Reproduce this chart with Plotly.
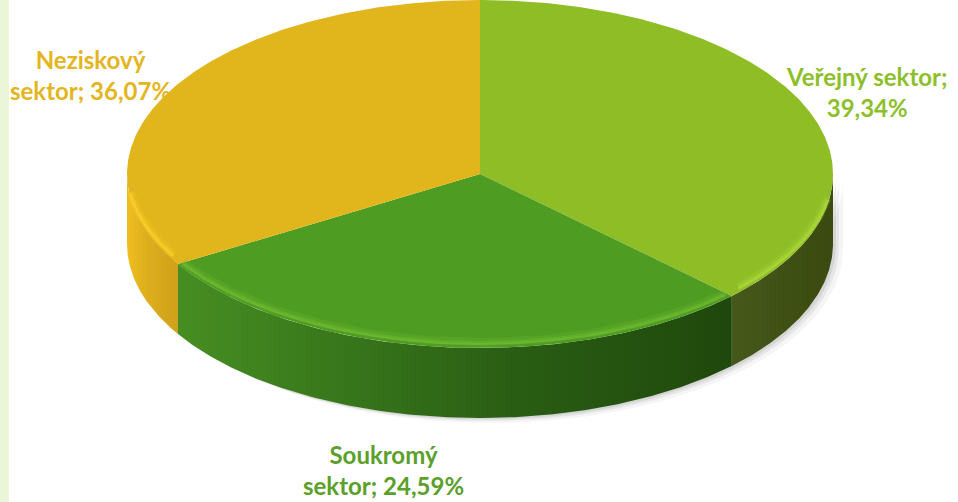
import numpy as np
import plotly.graph_objects as go

# ---- data ----
categories = ["Veřejný sektor", "Soukromý sektor", "Neziskový sektor"]
values = [39.34, 24.59, 36.07]
label_texts = ["Veřejný sektor;<br>39,34%", "Soukromý<br>sektor; 24,59%", "Neziskový<br>sektor; 36,07%"]

# ---- styles ----
top_colors = ["#8FBD26", "#4F9C23", "#E1B51C"]
rim_rgb = ["175,220,60", "115,190,50", "255,210,40"]
side_scales = [
    [[0, "#46581A"], [1, "#3A4A10"]],
    [[0, "#468E22"], [0.25, "#3A7A1C"], [0.6, "#2A5E14"], [1, "#1F480C"]],
    [[0, "#F0BE20"], [0.4, "#DDAE1C"], [1, "#CFA01A"]],
]
text_colors = ["#8DBF2A", "#5AA02A", "#E3B520"]
label_pos = [(866, 92), (383, 470), (90, 75)]

W, H = 958, 502
cx, cy, a, b, depth = 480, 174, 353, 174, 70
persp = 0.83  # perspective remap of slice angles (near side enlarged)


def proj(theta_deg):
    t = np.radians(np.asarray(theta_deg, dtype=float))
    return np.degrees(2 * np.arctan2(persp * np.sin(t / 2), np.cos(t / 2)))


def pt(phi_deg, dy=0.0):
    t = np.radians(phi_deg)
    return cx + a * np.sin(t), cy - b * np.cos(t) + dy


fig = go.Figure()

# soft shadow under the pie
th = np.linspace(90, 270, 200)
sx, sy = pt(th, depth)
tx, ty = pt(th[::-1], 0)
for off, op in [(10, 0.04), (6, 0.06), (3, 0.07)]:
    fig.add_trace(go.Scatter(
        x=list(sx + off) + list(tx + off) + [sx[0] + off],
        y=list(sy + off * 0.5) + list(ty + off * 0.5) + [sy[0] + off * 0.5],
        mode="lines", line=dict(width=0), fill="toself",
        fillcolor=f"rgba(0,0,0,{op})", hoverinfo="skip", showlegend=False))

# slice angles (from data), mapped to the tilted view
total = sum(values)
bounds = proj(np.concatenate([[0], np.cumsum(values) / total * 360]))
bounds = np.where(bounds < 0, bounds + 360, bounds)
bounds[-1] = 360

# side walls
for i, v in enumerate(values):
    t1, t2 = bounds[i], bounds[i + 1]
    s, e = max(t1, 90), min(t2, 270)
    if e <= s:
        continue
    th = np.linspace(s, e, 200)
    x1, y1 = pt(th, 0)
    x2, y2 = pt(th[::-1], depth)
    fig.add_trace(go.Scatter(
        x=list(x1) + list(x2) + [x1[0]], y=list(y1) + list(y2) + [y1[0]],
        mode="lines", line=dict(width=0), fill="toself",
        fillgradient=dict(type="horizontal", colorscale=side_scales[i]),
        hoverinfo="skip", showlegend=False))

# top faces
for i, v in enumerate(values):
    t1, t2 = bounds[i], bounds[i + 1]
    th = np.linspace(t1, t2, 300)
    x1, y1 = pt(th, 0)
    fig.add_trace(go.Scatter(
        x=[cx] + list(x1) + [cx], y=[cy] + list(y1) + [cy],
        mode="lines", line=dict(width=0), fill="toself",
        fillcolor=top_colors[i], name=categories[i],
        hovertemplate=f"{categories[i]}: {v:.2f}%<extra></extra>",
        showlegend=False))

# soft bevel highlight along the front rim
for i, v in enumerate(values):
    t1, t2 = bounds[i], bounds[i + 1]
    s, e = max(t1 + 1.5, 100), min(t2 - 1.5, 262)
    if e <= s:
        continue
    th = np.linspace(s, e, 200)
    for w, op, dy in [(8, 0.22, -6), (4, 0.4, -5), (2, 0.55, -4)]:
        x1, y1 = pt(th, dy)
        fig.add_trace(go.Scatter(
            x=x1, y=y1, mode="lines",
            line=dict(width=w, color=f"rgba({rim_rgb[i]},{op})"),
            hoverinfo="skip", showlegend=False))

# labels
for i, txt in enumerate(label_texts):
    fig.add_annotation(x=label_pos[i][0], y=label_pos[i][1], xref="x", yref="y",
                       text=txt, showarrow=False,
                       font=dict(family="Lato", size=24, color=text_colors[i], weight="bold"),
                       align="center")

fig.update_layout(
    width=W, height=H, margin=dict(l=0, r=0, t=0, b=0),
    paper_bgcolor="white", plot_bgcolor="white",
    xaxis=dict(range=[0, W], visible=False, fixedrange=True),
    yaxis=dict(range=[H, 0], visible=False, fixedrange=True),
    shapes=[dict(type="rect", xref="paper", yref="paper", x0=0, x1=9 / W, y0=0, y1=1,
                 fillcolor="#EBF6D8", line=dict(width=0), layer="below")],
)

fig.write_html("out.html", config={"displayModeBar": False},
               post_script="document.body.style.margin='0';document.body.style.overflow='hidden';")
